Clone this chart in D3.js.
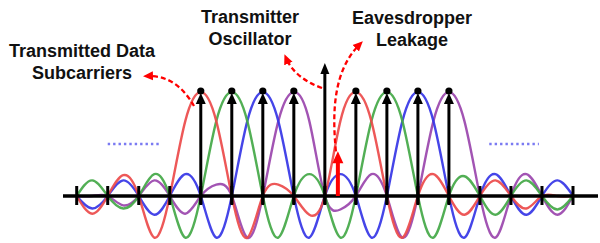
<!DOCTYPE html>
<html>
<head>
<meta charset="utf-8">
<script src="https://cdn.jsdelivr.net/npm/d3@7"></script>
<style>
  html, body { margin: 0; padding: 0; background: #fff; }
  svg { display: block; }
</style>
</head>
<body>
<svg id="chart" width="600" height="243"></svg>
<script>
// tick slots along the frequency axis
const slots = d3.range(17);

// data subcarriers (slot index) and the colour family each one belongs to
const subcarriers = [4, 5, 6, 7, 9, 10, 11, 12];
const subcarrierColor = ['red', 'green', 'blue', 'purple', 'red', 'green', 'blue', 'purple'];

// lobe value at the middle of each slot interval (peak = 1)
const redLobes = [-0.17, 0.20, -0.40, 0.72, 0.72, -0.40, 0.11, -0.18, 0.72, 0.72, -0.40, 0.21, -0.18, 0.15, -0.12, 0];
const greenLobes = [0.15, -0.12, 0.21, -0.40, 0.72, 0.72, -0.40, 0.21, -0.40, 0.72, 0.72, -0.40, 0.19, -0.18, 0.15, -0.13];
const blueLobes = [-0.12, 0.15, -0.18, 0.21, -0.40, 0.72, 0.72, -0.40, 0.21, -0.40, 0.72, 0.72, -0.40, 0.21, -0.18, 0.15];
const purpleLobes = [0, -0.09, 0.15, -0.17, 0.11, -0.40, 0.72, 0.72, -0.13, 0.21, -0.40, 0.72, 0.72, -0.40, 0.21, -0.18];

// oscillator tone and eavesdropper leakage (slot position, level)
const oscillator = { pos: 8, level: 1.28 };
const leakage = { pos: 8.42, level: 0.43 };

// guard-band dotted markers (slot span, level)
const guardMarks = [
  { from: 1.0, to: 2.7, level: 0.5 },
  { from: 13.3, to: 14.9, level: 0.5 },
];

const labels = [
  { lines: ['Transmitted Data', 'Subcarriers'], x: 82, y: 57 },
  { lines: ['Transmitter', 'Oscillator'], x: 250, y: 23 },
  { lines: ['Eavesdropper', 'Leakage'], x: 412, y: 24 },
];

const colors = { red: '#ec4a4a', green: '#43a847', blue: '#3535e6', purple: '#9a45ad' };

const svg = d3.select('#chart');
const x = d3.scaleLinear().domain([0, 16]).range([76.7, 573]);
const y = d3.scaleLinear().domain([0, 1]).range([196, 92]);

function seriesPoints(name, lobes) {
  const peaks = subcarriers.filter((s, i) => subcarrierColor[i] === name);
  const pts = [];
  slots.forEach((s) => {
    pts.push({ t: s, v: peaks.includes(s) ? 1 : 0 });
    if (s < 16) pts.push({ t: s + 0.5, v: lobes[s] });
  });
  return pts;
}

const series = [
  { name: 'purple', pts: seriesPoints('purple', purpleLobes) },
  { name: 'blue', pts: seriesPoints('blue', blueLobes) },
  { name: 'green', pts: seriesPoints('green', greenLobes) },
  { name: 'red', pts: seriesPoints('red', redLobes) },
];

const line = d3.line().x((d) => x(d.t)).y((d) => y(d.v)).curve(d3.curveNatural);

svg.append('g')
  .selectAll('path')
  .data(series)
  .join('path')
  .attr('d', (d) => line(d.pts))
  .attr('fill', 'none')
  .attr('stroke', (d) => colors[d.name])
  .attr('stroke-width', 2.4)
  .attr('stroke-opacity', 0.92);

// dotted guard markers
svg.append('g')
  .selectAll('line')
  .data(guardMarks)
  .join('line')
  .attr('x1', (d) => x(d.from))
  .attr('x2', (d) => x(d.to))
  .attr('y1', (d) => y(d.level))
  .attr('y2', (d) => y(d.level))
  .attr('stroke', '#7a7af2')
  .attr('stroke-width', 2.5)
  .attr('stroke-dasharray', '2.4,3');

// axis + ticks
svg.append('line')
  .attr('x1', 63).attr('x2', 598)
  .attr('y1', y(0)).attr('y2', y(0))
  .attr('stroke', '#000').attr('stroke-width', 3.5);

svg.append('g')
  .selectAll('line')
  .data(slots)
  .join('line')
  .attr('x1', (d) => x(d)).attr('x2', (d) => x(d))
  .attr('y1', y(0) - 10).attr('y2', y(0) + 9)
  .attr('stroke', '#000').attr('stroke-width', 3);

// subcarrier arrows
const arrows = svg.append('g');
arrows.selectAll('line')
  .data(subcarriers)
  .join('line')
  .attr('x1', (d) => x(d)).attr('x2', (d) => x(d))
  .attr('y1', y(0) + 8).attr('y2', y(1) + 10)
  .attr('stroke', '#000').attr('stroke-width', 3);
arrows.selectAll('path')
  .data(subcarriers)
  .join('path')
  .attr('d', (d) => `M${x(d)},${y(1) + 1}L${x(d) + 5},${y(1) + 12}L${x(d) - 5},${y(1) + 12}Z`)
  .attr('fill', '#000');
arrows.selectAll('circle')
  .data(subcarriers)
  .join('circle')
  .attr('cx', (d) => x(d)).attr('cy', y(1) - 1)
  .attr('r', 3.6)
  .attr('fill', '#000');

// oscillator arrow
svg.append('line')
  .attr('x1', x(oscillator.pos)).attr('x2', x(oscillator.pos))
  .attr('y1', y(0) + 8).attr('y2', y(oscillator.level) + 9)
  .attr('stroke', '#000').attr('stroke-width', 3);
svg.append('path')
  .attr('d', `M${x(oscillator.pos)},${y(oscillator.level)}L${x(oscillator.pos) + 4.5},${y(oscillator.level) + 11}L${x(oscillator.pos) - 4.5},${y(oscillator.level) + 11}Z`)
  .attr('fill', '#000');

// leakage arrow
svg.append('line')
  .attr('x1', x(leakage.pos)).attr('x2', x(leakage.pos))
  .attr('y1', y(0)).attr('y2', y(leakage.level) + 10)
  .attr('stroke', '#ff0000').attr('stroke-width', 4);
svg.append('path')
  .attr('d', `M${x(leakage.pos)},${y(leakage.level)}L${x(leakage.pos) + 5.5},${y(leakage.level) + 12}L${x(leakage.pos) - 5.5},${y(leakage.level) + 12}Z`)
  .attr('fill', '#ff0000');

// dashed annotation arrows
svg.append('defs')
  .append('marker')
  .attr('id', 'red-head')
  .attr('viewBox', '0 -5 10 10')
  .attr('refX', 6)
  .attr('refY', 0)
  .attr('markerWidth', 10)
  .attr('markerHeight', 10)
  .attr('markerUnits', 'userSpaceOnUse')
  .attr('orient', 'auto')
  .append('path')
  .attr('d', 'M0,-4.5L10,0L0,4.5Z')
  .attr('fill', '#ff0000');

const lx = x(leakage.pos);
const ly = y(leakage.level);
const callouts = [
  `M194,106C186,92 172,75 147,76`,
  `M322,88C305,82 292,72 286,58`,
  `M${lx - 2},${ly}C${lx - 6},110 ${lx - 4},70 360,44`,
];
svg.append('g')
  .selectAll('path')
  .data(callouts)
  .join('path')
  .attr('d', (d) => d)
  .attr('fill', 'none')
  .attr('stroke', '#ff0000')
  .attr('stroke-width', 2.3)
  .attr('stroke-dasharray', '5,3')
  .attr('marker-end', 'url(#red-head)');

// labels
const lbl = svg.append('g')
  .attr('font-family', '"Liberation Sans", Arial, Helvetica, sans-serif')
  .attr('font-weight', 'bold')
  .attr('font-size', '18px')
  .attr('fill', '#111')
  .attr('text-anchor', 'middle');
labels.forEach((l) => {
  l.lines.forEach((t, i) => {
    lbl.append('text')
      .attr('x', l.x)
      .attr('y', l.y + i * 22)
      .text(t);
  });
});
</script>
</body>
</html>
